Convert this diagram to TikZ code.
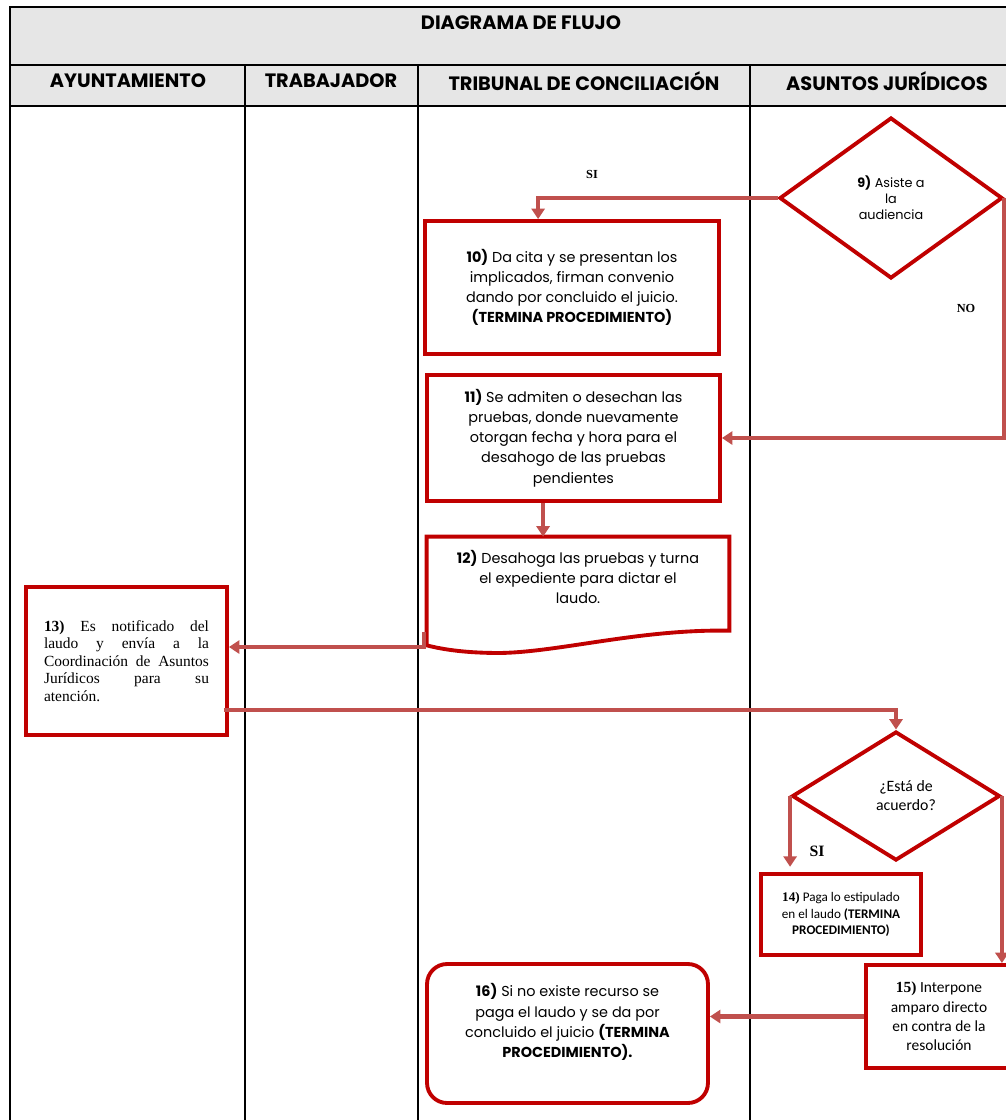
\documentclass[tikz,border=0pt]{standalone}
\usepackage{fontspec}
\setmainfont{Poppins}
\newfontfamily\numserif{Liberation Serif}
\newfontfamily\calibri{Carlito}
\usetikzlibrary{shapes.geometric,arrows.meta,calc}

\begin{document}
\begin{tikzpicture}[x=0.02cm,y=-0.02cm,line join=miter]
  \definecolor{hdrgray}{RGB}{230,230,230}
  \definecolor{boxred}{RGB}{192,0,0}
  \definecolor{flowred}{RGB}{192,80,77}
  \tikzset{
    lane/.style={font=\bfseries\fontsize{11}{13}\selectfont,inner sep=0pt},
    stepbox/.style={draw=boxred,line width=2.2pt,fill=white,align=center,inner sep=0pt},
    decision/.style={diamond,aspect=1.4,draw=boxred,line width=2.2pt,fill=white,align=center,inner sep=0pt},
    flow/.style={flowred,line width=2.3pt,-{Triangle[width=7.5pt,length=6pt]}},
    answer/.style={font=\numserif\bfseries\fontsize{7}{8}\selectfont,inner sep=0pt},
    gothic/.style={font=\fontsize{8.2}{11.5}\selectfont},
  }
  \useasboundingbox (0,0) rectangle (1005,1120);

  % ---- table frame ----
  \fill[hdrgray] (10,7) rectangle (1012,106);
  \draw[line width=0.6pt] (1012,7) -- (10,7) -- (10,1125);
  \draw[line width=0.6pt] (10,65) -- (1012,65);
  \draw[line width=0.6pt] (10,106) -- (1012,106);
  \foreach \x in {245,418,750} {
    \draw[line width=0.6pt] (\x,65) -- (\x,1125);
  }

  % ---- headings ----
  \node[lane] (title) at (521,23) {DIAGRAMA DE FLUJO};
  \node[lane] (ayto) at (128,81) {AYUNTAMIENTO};
  \node[lane] (trab) at (331,81) {TRABAJADOR};
  \node[lane] (trib) at (584,81) {TRIBUNAL DE CONCILIACIÓN};
  \node[lane] (jur) at (887,81) {ASUNTOS JURÍDICOS};

  % ---- first decision and its branches ----
  \node[decision,minimum width=4.46cm,minimum height=3.22cm,
        font=\fontsize{7.3}{9}\selectfont] (d9) at (891,198)
    {\textbf{9)} Asiste a\\la\\audiencia};
  \node[stepbox,gothic,minimum width=5.88cm,minimum height=2.66cm] (b10) at (572,287.5)
    {\textbf{10)} Da cita y se presentan los\\implicados, firman convenio\\dando por concluido el juicio.\\\textbf{(TERMINA PROCEDIMIENTO)}};
  \node[stepbox,gothic,minimum width=5.86cm,minimum height=2.52cm] (b11) at (573.5,438)
    {\textbf{11)} Se admiten o desechan las\\pruebas, donde nuevamente\\otorgan fecha y hora para el\\desahogo de las pruebas\\pendientes};
  \node[answer] (si1) at (592,174) {SI};
  \node[answer] (no1) at (966,308) {NO};
  \draw[flow] (d9.west) -| ($(b10.north west)+(115,0)$);
  \draw[flow] (d9.east) |- (b11.east);

  % ---- document shape (step 12) ----
  \node[minimum width=6.04cm,minimum height=2.16cm,inner sep=0pt] (b12) at (578,591) {};
  \draw[boxred,line width=2.2pt,fill=white]
    (b12.south west) -- (b12.north west) -- (b12.north east) -- ++(0,94)
    .. controls (640,629) and (560,652) .. (500,653)
    .. controls (468,653) and (445,650) .. (b12.south west) -- cycle;
  \node[gothic,align=center] (t12) at (578,577)
    {\textbf{12)} Desahoga las pruebas y turna\\el expediente para dictar el\\laudo.};
  \draw[flow] ($(b11.south west)+(118,0)$) coordinate (a11) -- (a11 |- b12.north);

  % ---- step 13 ----
  \node[stepbox,minimum width=4.02cm,minimum height=2.96cm,text width=3.3cm,align=justify,
        font=\numserif\fontsize{8.8}{10}\selectfont] (b13) at (126.5,661)
    {\hyphenpenalty=10000 \textbf{13)} Es notificado del\linebreak laudo y envía a la\linebreak
     Coordinación de Asuntos\linebreak Jurídicos para su\linebreak atención.};
  \draw[flow] ($(b12.south west)+(-3,-13)$) |- ($(b13.east)+(0,-14)$);

  % ---- second decision ----
  \node[decision,minimum width=4.16cm,minimum height=2.58cm,
        font=\calibri\fontsize{9}{10.8}\selectfont] (d2) at (896,796)
    {\hspace*{0.4cm}¿Está de\\\hspace*{0.4cm}acuerdo?};
  \draw[flow] ($(b13.east)+(-5,49)$) -| (d2.north);
  \node[stepbox,minimum width=3.2cm,minimum height=1.62cm,
        font=\calibri\fontsize{7.5}{9.6}\selectfont] (b14) at (841,914.5)
    {\textbf{\numserif 14)} Paga lo estipulado\\en el laudo \textbf{(TERMINA}\\\textbf{PROCEDIMIENTO)}};
  \node[stepbox,minimum width=2.92cm,minimum height=2.06cm,
        font=\calibri\fontsize{8.8}{11}\selectfont] (b15) at (939,1016.5)
    {\textbf{\numserif 15)} Interpone\\amparo directo\\en contra de la\\resolución};
  \node[answer,font=\numserif\bfseries\fontsize{9}{10}\selectfont] (si2) at (817,851) {SI};
  \draw[flow,shorten >=3pt] (d2.west) -- (d2.west |- b14.north);
  \draw[flow] (d2.east) -- (d2.east |- b15.north);

  % ---- step 16 ----
  \node[stepbox,gothic,rounded corners=0.4cm,minimum width=5.62cm,minimum height=2.78cm] (b16) at (567.5,1033.5)
    {\textbf{16)} Si no existe recurso se\\paga el laudo y se da por\\concluido el juicio \textbf{(TERMINA}\\\textbf{PROCEDIMIENTO).}\\[0.4em]};
  \draw[flow] (b15.west) -- (b15.west -| b16.east);
\end{tikzpicture}
\end{document}
